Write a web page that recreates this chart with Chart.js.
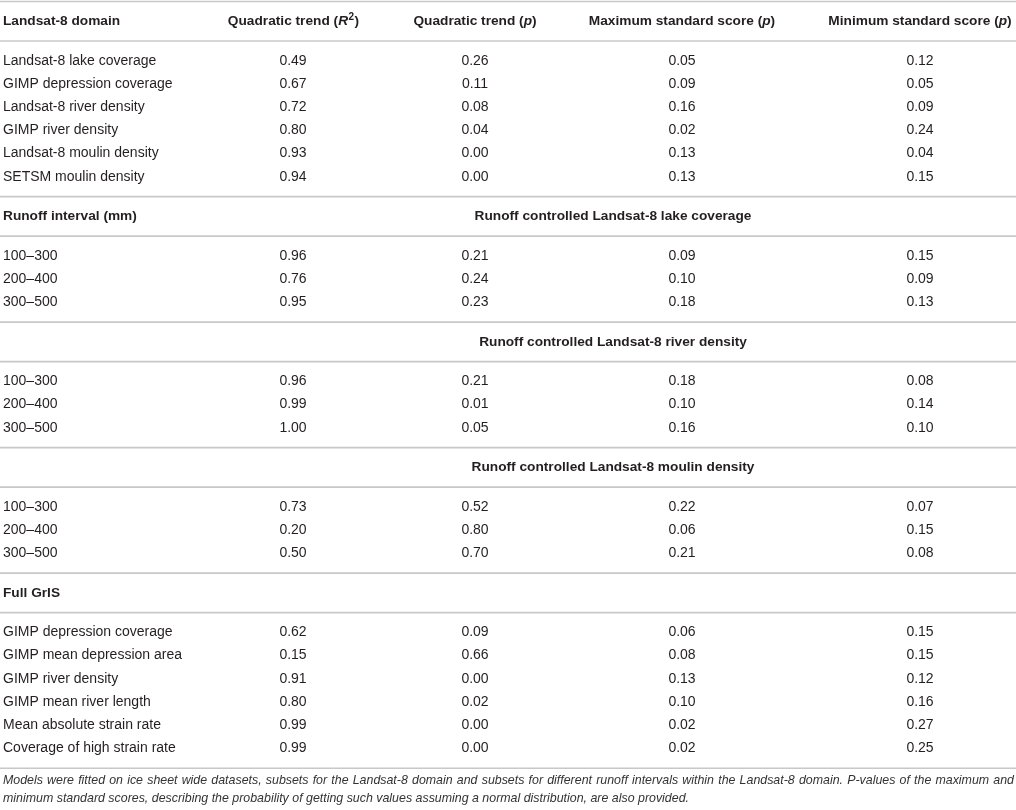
<!DOCTYPE html>
<html>
<head>
<meta charset="utf-8">
<script src="https://cdn.jsdelivr.net/npm/chart.js@4.4.1/dist/chart.umd.min.js"></script>
<style>
  html, body { margin: 0; padding: 0; background: #fff; }
  #wrap { width: 1016px; height: 810px; position: relative; }
</style>
</head>
<body>
<div id="wrap"><canvas id="trendTable"></canvas></div>
<script>
// Table values
const columnTitles = [
  "Landsat-8 domain",
  "Quadratic trend (R2)",
  "Quadratic trend (p)",
  "Maximum standard score (p)",
  "Minimum standard score (p)",
];

const domainLabels = [
  "Landsat-8 lake coverage",
  "GIMP depression coverage",
  "Landsat-8 river density",
  "GIMP river density",
  "Landsat-8 moulin density",
  "SETSM moulin density",
];
const domainR2 = [0.49, 0.67, 0.72, 0.8, 0.93, 0.94];
const domainP = [0.26, 0.11, 0.08, 0.04, 0.0, 0.0];
const domainMax = [0.05, 0.09, 0.16, 0.02, 0.13, 0.13];
const domainMin = [0.12, 0.05, 0.09, 0.24, 0.04, 0.15];

const runoffIntervals = ["100–300", "200–400", "300–500"];
const lakeR2 = [0.96, 0.76, 0.95];
const lakeP = [0.21, 0.24, 0.23];
const lakeMax = [0.09, 0.1, 0.18];
const lakeMin = [0.15, 0.09, 0.13];

const riverR2 = [0.96, 0.99, 1.0];
const riverP = [0.21, 0.01, 0.05];
const riverMax = [0.18, 0.1, 0.16];
const riverMin = [0.08, 0.14, 0.1];

const moulinR2 = [0.73, 0.2, 0.5];
const moulinP = [0.52, 0.8, 0.7];
const moulinMax = [0.22, 0.06, 0.21];
const moulinMin = [0.07, 0.15, 0.08];

const fullLabels = [
  "GIMP depression coverage",
  "GIMP mean depression area",
  "GIMP river density",
  "GIMP mean river length",
  "Mean absolute strain rate",
  "Coverage of high strain rate",
];
const fullR2 = [0.62, 0.15, 0.91, 0.8, 0.99, 0.99];
const fullP = [0.09, 0.66, 0.0, 0.02, 0.0, 0.0];
const fullMax = [0.06, 0.08, 0.13, 0.1, 0.02, 0.02];
const fullMin = [0.15, 0.15, 0.12, 0.16, 0.27, 0.25];

const caption =
  "Models were fitted on ice sheet wide datasets, subsets for the Landsat-8 domain and subsets for different runoff intervals within the Landsat-8 domain. P-values of the maximum and minimum standard scores, describing the probability of getting such values assuming a normal distribution, are also provided.";

const sections = [
  { left: null, title: null, labels: domainLabels, cols: [domainR2, domainP, domainMax, domainMin] },
  { left: "Runoff interval (mm)", title: "Runoff controlled Landsat-8 lake coverage", labels: runoffIntervals, cols: [lakeR2, lakeP, lakeMax, lakeMin] },
  { left: null, title: "Runoff controlled Landsat-8 river density", labels: runoffIntervals, cols: [riverR2, riverP, riverMax, riverMin] },
  { left: null, title: "Runoff controlled Landsat-8 moulin density", labels: runoffIntervals, cols: [moulinR2, moulinP, moulinMax, moulinMin] },
  { left: "Full GrIS", title: null, labels: fullLabels, cols: [fullR2, fullP, fullMax, fullMin] },
];

// Layout (axis units = px of the 1016x810 page)
const layout = {
  width: 1016,
  height: 810,
  colX: [3, 293, 475, 682, 920],
  spanX: 613,
  topRule: 1.5,
  headH: 39.5,
  rowH: 23.2,
  blockPad: 8.2,
  captionGap: [12.5, 30],
  captionSlack: 30,
};
const style = {
  font: '"Liberation Sans", Arial, Helvetica, sans-serif',
  size: 14,
  boldSize: 13.7,
  supSize: 10,
  captionSize: 12.4,
  text: "#231f20",
  caption: "#333333",
  rule: "#c8c8c8",
};

// Work out row positions
const rules = [];
const cells = { labels: [], values: [[], [], [], []], heads: [], secLeft: [], secSpan: [] };
let y = layout.topRule;
rules.push(y);
sections.forEach((sec, s) => {
  const hy = y + layout.headH / 2;
  if (s === 0) {
    columnTitles.forEach((t, j) => cells.heads.push({ x: layout.colX[j], y: hy, text: t, align: j === 0 ? "left" : "center" }));
  } else {
    if (sec.left) cells.secLeft.push({ x: layout.colX[0], y: hy, text: sec.left });
    if (sec.title) cells.secSpan.push({ x: layout.spanX, y: hy, text: sec.title });
  }
  y += layout.headH;
  rules.push(y);
  y += layout.blockPad;
  sec.labels.forEach((lab, r) => {
    const ry = y + layout.rowH / 2;
    cells.labels.push({ x: layout.colX[0], y: ry, text: lab });
    sec.cols.forEach((col, j) => cells.values[j].push({ x: layout.colX[j + 1], y: ry, text: col[r].toFixed(2) }));
    y += layout.rowH;
  });
  y += layout.blockPad;
  rules.push(y);
});
const captionBase = y;

function cellDataset(list, align, bold) {
  return {
    data: list.map((c) => ({ x: c.x, y: c.y })),
    texts: list.map((c) => c.text),
    aligns: list.map((c) => c.align || align),
    bold: bold,
    pointRadius: 0,
    pointHoverRadius: 0,
  };
}

// Split "(R2)" and "(p)" into italic / superscript pieces
function richSegments(text, bold) {
  const w = bold ? "bold " : "";
  const segs = [];
  const re = /\((R)(2)\)|\((p)\)/g;
  let last = 0, m;
  while ((m = re.exec(text))) {
    segs.push({ t: text.slice(last, m.index) + "(", f: w });
    if (m[1]) {
      segs.push({ t: m[1], f: "italic " + w });
      segs.push({ t: m[2], f: w, sup: true });
    } else {
      segs.push({ t: m[3], f: "italic " + w });
    }
    segs.push({ t: ")", f: w });
    last = re.lastIndex;
  }
  if (last < text.length) segs.push({ t: text.slice(last), f: w });
  return segs;
}

function drawRich(ctx, text, x, y, align, bold) {
  const segs = richSegments(text, bold);
  const base = bold ? style.boldSize : style.size;
  const fontOf = (s) => s.f + (s.sup ? style.supSize : base) + "px " + style.font;
  let total = 0;
  segs.forEach((s) => {
    ctx.font = fontOf(s);
    s.w = ctx.measureText(s.t).width;
    total += s.w;
  });
  let cx = align === "center" ? x - total / 2 : x;
  ctx.textAlign = "left";
  ctx.textBaseline = "middle";
  ctx.fillStyle = style.text;
  segs.forEach((s) => {
    ctx.font = fontOf(s);
    ctx.fillText(s.t, cx + (s.sup ? 0.5 : 0), s.sup ? y - 4.5 : y);
    cx += s.w + (s.sup ? 1 : 0);
  });
}

function drawCaption(ctx, left, right, y0, y1) {
  ctx.font = "italic " + style.captionSize + "px " + style.font;
  ctx.fillStyle = style.caption;
  ctx.textAlign = "left";
  ctx.textBaseline = "middle";
  const maxW = right - left;
  const words = caption.split(" ");
  const lines = [];
  let cur = [];
  words.forEach((wd) => {
    const test = cur.concat(wd).join(" ");
    if (ctx.measureText(test).width > maxW + layout.captionSlack && cur.length) {
      lines.push(cur);
      cur = [wd];
    } else cur.push(wd);
  });
  if (cur.length) lines.push(cur);
  lines.forEach((ln, i) => {
    const ly = y0 + (y1 - y0) * i;
    if (i < lines.length - 1 && ln.length > 1) {
      const widths = ln.map((wd) => ctx.measureText(wd).width);
      const sum = widths.reduce((a, b) => a + b, 0);
      const gap = (maxW - sum) / (ln.length - 1);
      let cx = left;
      ln.forEach((wd, k) => {
        ctx.fillText(wd, cx, ly);
        cx += widths[k] + gap;
      });
    } else {
      ctx.fillText(ln.join(" "), left, ly);
    }
  });
}

const tablePlugin = {
  id: "tableCells",
  afterDatasetsDraw(chart) {
    const ctx = chart.ctx;
    const xs = chart.scales.x;
    const ys = chart.scales.y;
    ctx.save();
    ctx.strokeStyle = style.rule;
    ctx.lineWidth = 1.6;
    rules.forEach((r) => {
      const py = ys.getPixelForValue(r);
      ctx.beginPath();
      ctx.moveTo(xs.getPixelForValue(0), py);
      ctx.lineTo(xs.getPixelForValue(layout.width), py);
      ctx.stroke();
    });
    chart.data.datasets.forEach((ds, i) => {
      const meta = chart.getDatasetMeta(i);
      meta.data.forEach((pt, k) => drawRich(ctx, ds.texts[k], pt.x, pt.y, ds.aligns[k], ds.bold));
    });
    drawCaption(
      ctx,
      xs.getPixelForValue(layout.colX[0]),
      xs.getPixelForValue(layout.width - 2),
      ys.getPixelForValue(captionBase + layout.captionGap[0]),
      ys.getPixelForValue(captionBase + layout.captionGap[1])
    );
    ctx.restore();
  },
};

new Chart(document.getElementById("trendTable"), {
  type: "scatter",
  data: {
    datasets: [
      cellDataset(cells.labels, "left", false),
      cellDataset(cells.values[0], "center", false),
      cellDataset(cells.values[1], "center", false),
      cellDataset(cells.values[2], "center", false),
      cellDataset(cells.values[3], "center", false),
      cellDataset(cells.heads, "center", true),
      cellDataset(cells.secLeft, "left", true),
      cellDataset(cells.secSpan, "center", true),
    ],
  },
  options: {
    responsive: true,
    maintainAspectRatio: false,
    animation: false,
    events: [],
    layout: { padding: 0 },
    plugins: { legend: { display: false }, tooltip: { enabled: false } },
    scales: {
      x: { type: "linear", min: 0, max: layout.width, display: false },
      y: { type: "linear", min: 0, max: layout.height, reverse: true, display: false },
    },
  },
  plugins: [tablePlugin],
});
</script>
</body>
</html>
